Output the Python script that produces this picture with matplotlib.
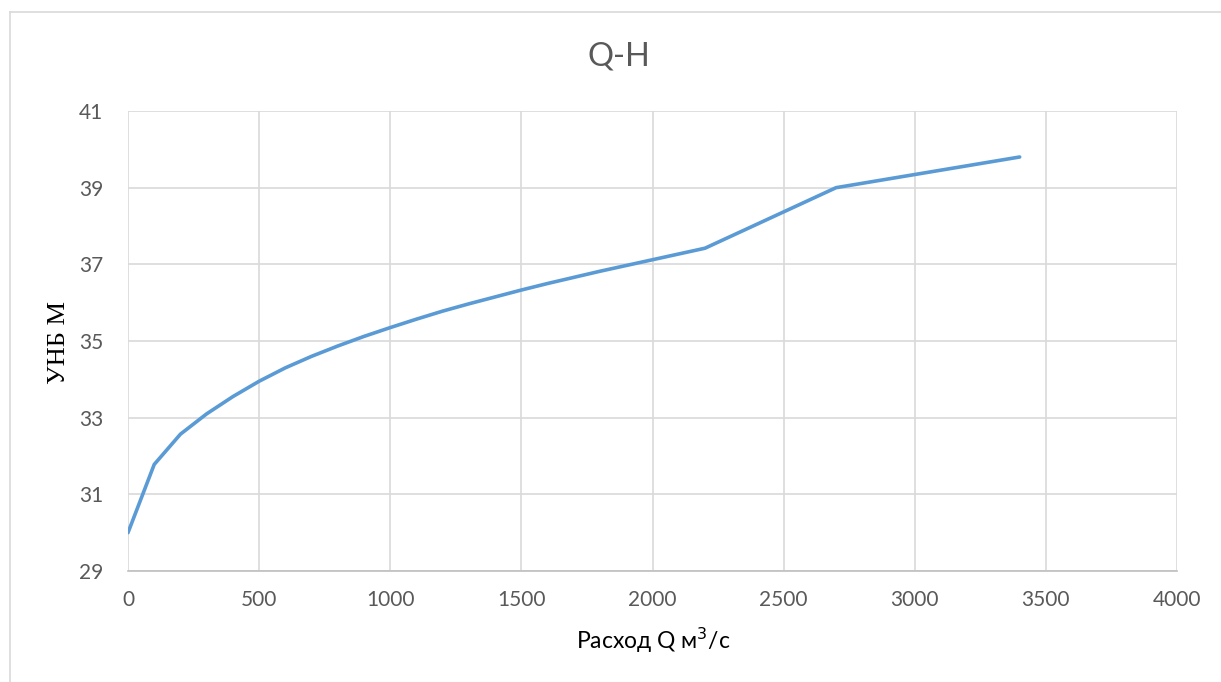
import matplotlib.pyplot as plt
from matplotlib.lines import Line2D

# Расход Q, м3/с и отметка УНБ, м
q = [0, 100, 200, 300, 400, 500, 600, 700, 800, 900, 1000, 1100, 1200,
     1300, 1400, 1500, 1600, 1700, 1800, 1900, 2000, 2100, 2200, 2700, 3400]
h = [30.0, 31.78, 32.57, 33.1, 33.55, 33.95, 34.3, 34.6, 34.87, 35.12, 35.35,
     35.57, 35.78, 35.97, 36.15, 36.33, 36.5, 36.66, 36.82, 36.97, 37.12,
     37.27, 37.42, 39.0, 39.8]

x_ticks = [0, 500, 1000, 1500, 2000, 2500, 3000, 3500, 4000]
y_ticks = [29, 31, 33, 35, 37, 39, 41]

fig = plt.figure(figsize=(12.21, 6.82), dpi=100)
ax = fig.add_axes([128 / 1221, 1 - 571 / 682, (1177 - 128) / 1221, (571 - 111) / 682])

ax.plot(q, h, color="#5b9bd5", linewidth=2.6, solid_capstyle="round", zorder=3)

ax.set_xlim(0, 4000)
ax.set_ylim(29, 41)
ax.set_xticks(x_ticks)
ax.set_yticks(y_ticks)
ax.grid(color="#d9d9d9", linewidth=1.2)
ax.set_axisbelow(True)
for s in ["top", "right", "left"]:
    ax.spines[s].set_visible(False)
ax.spines["bottom"].set_color("#bfbfbf")
ax.spines["bottom"].set_linewidth(1.2)
ax.tick_params(length=0, labelsize=15, labelcolor="#595959")
ax.tick_params(axis="x", pad=14)
ax.tick_params(axis="y", pad=18)
for lbl in ax.get_xticklabels() + ax.get_yticklabels():
    lbl.set_fontfamily("Lato")

fig.text(619 / 1221, 1 - 57 / 682, "Q-H", ha="center", va="center",
         fontsize=23.5, color="#595959", family="Lato")
fig.text(653 / 1221, 1 - 640 / 682, "Расход Q м$^3$/с", ha="center", va="center",
         fontsize=16.5, color="black", family="Lato")
fig.text(59 / 1221, 1 - 342 / 682, "УНБ М", ha="center", va="center",
         rotation=90, fontsize=19, color="black", family="Liberation Serif")

# рамка области диаграммы
fig.add_artist(Line2D([10 / 1221, 10 / 1221], [0, 1 - 12 / 682], color="#d9d9d9", linewidth=1.2))
fig.add_artist(Line2D([10 / 1221, 1], [1 - 12 / 682, 1 - 12 / 682], color="#d9d9d9", linewidth=1.2))

fig.savefig("out.png", dpi=100)
